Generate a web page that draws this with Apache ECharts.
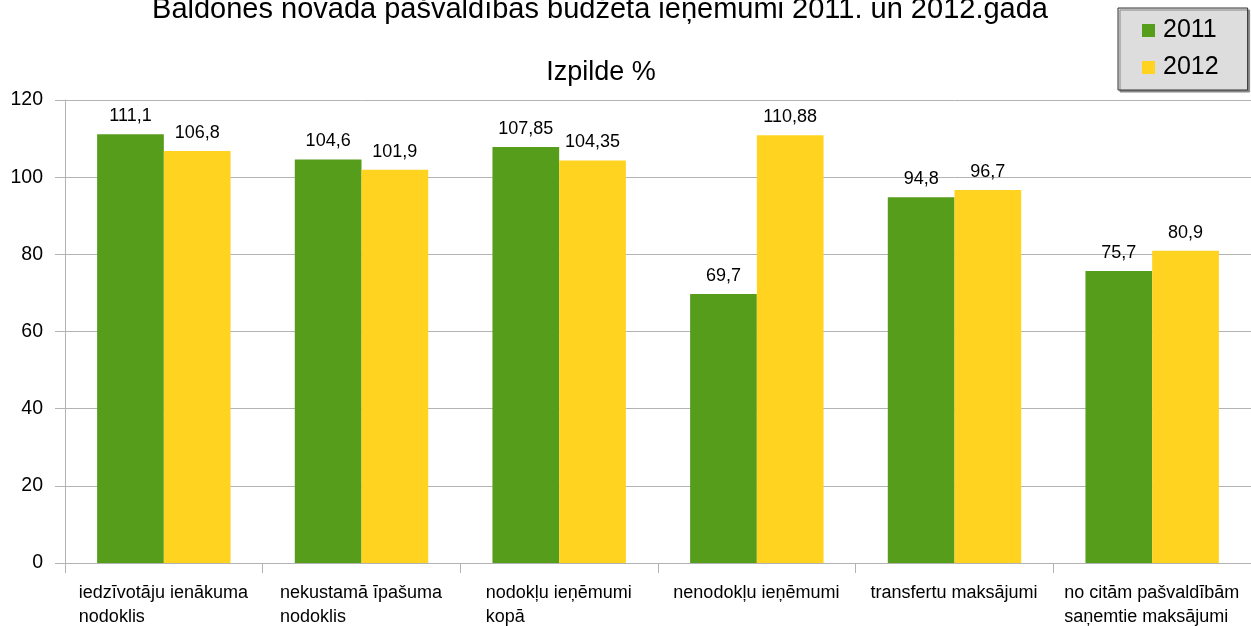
<!DOCTYPE html>
<html>
<head>
<meta charset="utf-8">
<script src="https://cdn.jsdelivr.net/npm/echarts@6/dist/echarts.min.js"></script>
<style>
  html, body { margin: 0; padding: 0; background: #fff; }
  #chart { width: 1251px; height: 626px; }
</style>
</head>
<body>
<div id="chart"></div>
<script>
// kategorijas (rindas atdalītas ar \n)
const categories = [
  'iedzīvotāju ienākuma\nnodoklis',
  'nekustamā īpašuma\nnodoklis',
  'nodokļu ieņēmumi\nkopā',
  'nenodokļu ieņēmumi',
  'transfertu maksājumi',
  'no citām pašvaldībām\nsaņemtie maksājumi'
];
const values2011 = [111.1, 104.6, 107.85, 69.7, 94.8, 75.7];
const values2012 = [106.8, 101.9, 104.35, 110.88, 96.7, 80.9];
const yTicks = [0, 20, 40, 60, 80, 100, 120];

const FONT = 'Liberation Sans';
const labelSize = 18;

// garākās rindas platums katrai kategorijai, lai rindas būtu līdzinātas pa kreisi
const ctx = document.createElement('canvas').getContext('2d');
ctx.font = labelSize + 'px "' + FONT + '"';
const rich = {};
categories.forEach((c, i) => {
  const w = Math.max(...c.split('\n').map(s => ctx.measureText(s).width));
  rich['w' + i] = { width: Math.ceil(w), align: 'left', fontSize: labelSize, fontFamily: FONT, color: '#000', lineHeight: 24 };
});

const chart = echarts.init(document.getElementById('chart'));

const dataLabel = {
  show: true,
  position: 'top',
  distance: 9,
  fontSize: 18,
  fontFamily: FONT,
  color: '#000',
  formatter: p => String(p.value).replace('.', ',')
};

chart.setOption({
  animation: false,
  title: [
    {
      text: 'Baldones novada pašvaldības budžeta ieņēmumi 2011. un 2012.gadā',
      left: 600,
      top: -5,
      padding: 0,
      textAlign: 'center',
      textStyle: { fontSize: 29, fontWeight: 'normal', fontFamily: FONT, color: '#000' }
    },
    {
      text: 'Izpilde %',
      left: 601,
      top: 59,
      padding: 0,
      textAlign: 'center',
      textStyle: { fontSize: 27, fontWeight: 'normal', fontFamily: FONT, color: '#000' }
    }
  ],
  legend: {
    orient: 'vertical',
    left: 1118,
    top: 8,
    padding: [10, 29, 10, 24],
    icon: 'rect',
    itemWidth: 13,
    itemHeight: 13,
    itemGap: 12,
    backgroundColor: '#dddddd',
    borderColor: '#333333',
    borderWidth: 1,
    borderRadius: 0,
    shadowColor: '#888',
    shadowOffsetX: 2,
    shadowOffsetY: 2,
    shadowBlur: 0,
    textStyle: { fontSize: 25, fontFamily: FONT, color: '#000', padding: [0, 0, 0, 3] },
    data: ['2011', '2012']
  },
  grid: { left: 65, right: -5, top: 100, bottom: 63, containLabel: false },
  xAxis: {
    type: 'category',
    data: categories,
    axisLine: { lineStyle: { color: '#b3b3b3', width: 1 } },
    axisTick: { show: true, length: 10, lineStyle: { color: '#b3b3b3' } },
    axisLabel: {
      interval: 0,
      margin: 18,
      align: 'center',
      formatter: (v, i) => v.split('\n').map(s => '{w' + i + '|' + s + '}').join('\n'),
      rich: rich
    }
  },
  yAxis: {
    type: 'value',
    min: yTicks[0],
    max: yTicks[yTicks.length - 1],
    interval: 20,
    axisLine: { show: true, lineStyle: { color: '#b3b3b3' } },
    axisTick: { show: true, length: 10, lineStyle: { color: '#b3b3b3' } },
    axisLabel: { margin: 22, fontSize: 19.5, fontFamily: FONT, color: '#000' },
    splitLine: { lineStyle: { color: '#b3b3b3' } }
  },
  series: [
    {
      name: '2011',
      type: 'bar',
      data: values2011,
      barGap: '0%',
      barCategoryGap: '32.5%',
      itemStyle: { color: '#579d1c' },
      label: dataLabel
    },
    {
      name: '2012',
      type: 'bar',
      data: values2012,
      barGap: '0%',
      barCategoryGap: '32.5%',
      itemStyle: { color: '#ffd320' },
      label: dataLabel
    }
  ]
});
</script>
</body>
</html>
